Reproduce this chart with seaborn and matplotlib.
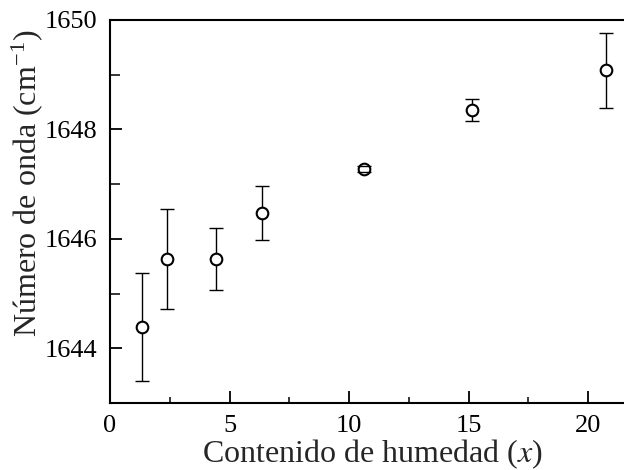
import numpy as np
import pandas as pd
import matplotlib
matplotlib.use("Agg")
import matplotlib.pyplot as plt
import seaborn as sns
from matplotlib.ticker import MultipleLocator

# data
humedad = [1.32, 2.40, 4.45, 6.35, 10.64, 15.16, 20.74]
numero_onda = [1644.39, 1645.63, 1645.63, 1646.47, 1647.28, 1648.35, 1649.08]
error = [0.99, 0.91, 0.56, 0.50, 0.05, 0.20, 0.69]

df = pd.DataFrame({"x": humedad, "y": numero_onda, "err": error})

sns.set_theme(style="ticks")
plt.rcParams["font.family"] = ["Liberation Serif", "DejaVu Serif"]
plt.rcParams["mathtext.fontset"] = "stix"

fig = plt.figure(figsize=(6.24, 4.70), dpi=100)
ax = fig.add_axes([110 / 624, 67 / 470, 514 / 624, 383 / 470])

# barras de error
eb = ax.errorbar(df["x"], df["y"], yerr=df["err"], fmt="none", ecolor="black",
                 elinewidth=1.0, capsize=5, capthick=1.0, zorder=1)
for cap in eb[1]:
    cap.set_zorder(4)

sns.scatterplot(data=df, x="x", y="y", ax=ax, marker="o", s=70,
                facecolor="white", edgecolor="black", linewidth=1.5, zorder=3)

ax.set_xlim(0, 21.5)
ax.set_ylim(1643, 1650)
ax.xaxis.set_major_locator(MultipleLocator(5))
ax.xaxis.set_minor_locator(MultipleLocator(2.5))
ax.yaxis.set_major_locator(MultipleLocator(2))
ax.yaxis.set_minor_locator(MultipleLocator(1))
ax.tick_params(which="both", direction="in", top=False, right=False,
               labelsize=19, color="black", labelcolor="black")
ax.tick_params(axis="x", pad=9)
ax.tick_params(axis="y", pad=9)
ax.tick_params(which="major", length=8.5, width=1.3)
ax.tick_params(axis="x", which="minor", length=4.5, width=1.1)
ax.tick_params(axis="y", which="minor", length=7, width=1.1)

for side in ["left", "bottom", "top"]:
    ax.spines[side].set_linewidth(1.5)
    ax.spines[side].set_color("black")
ax.spines["right"].set_visible(False)

ax.set_xlabel("Contenido de humedad ($\\mathit{x}$)", fontsize=23)
ax.set_ylabel("Número de onda (cm$^{\\mathregular{-1}}$)", fontsize=23)
ax.xaxis.set_label_coords(0.51, -0.134, transform=ax.transAxes)
ax.xaxis.label.set_va("center")
ax.yaxis.set_label_coords(-0.16, 0.574, transform=ax.transAxes)
ax.yaxis.label.set_va("center")

fig.savefig("out.png", dpi=100)
